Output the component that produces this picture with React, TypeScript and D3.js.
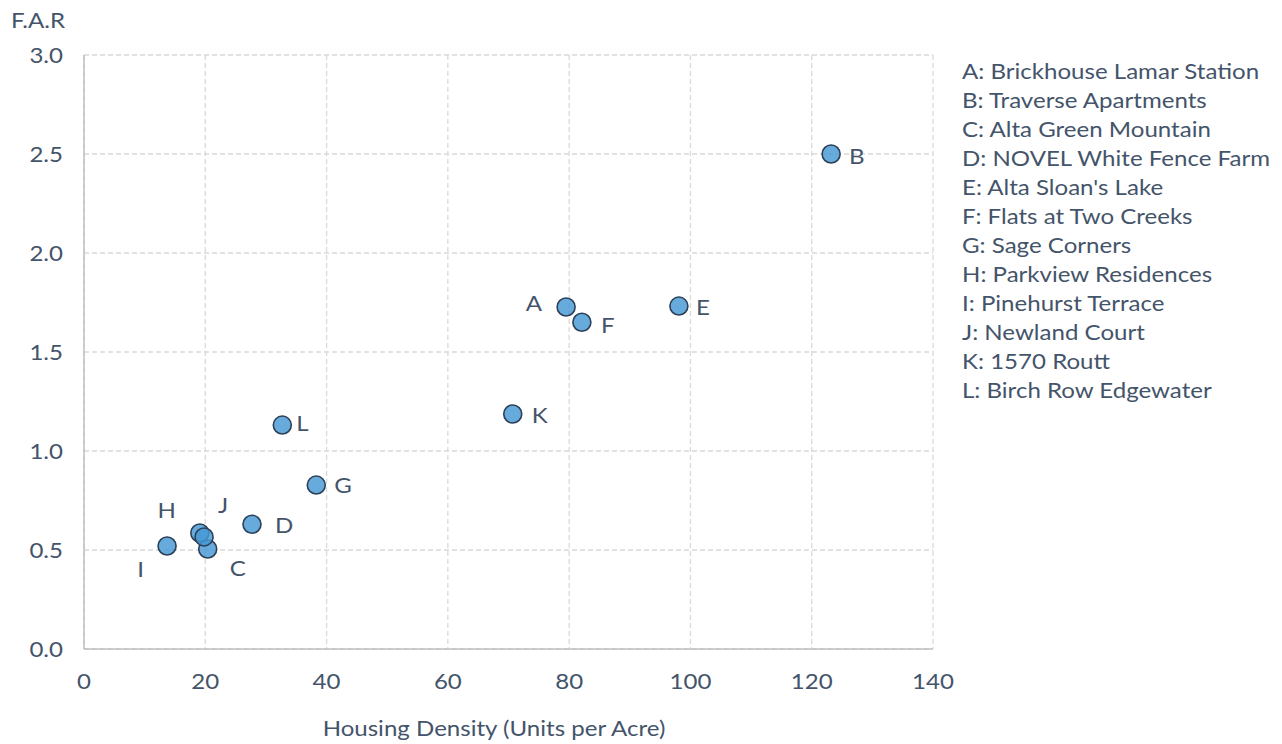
import React from "react";
import * as d3 from "d3";

const labels = ["A", "B", "C", "D", "E", "F", "G", "H", "I", "J", "K", "L"];
const names = [
  "Brickhouse Lamar Station",
  "Traverse Apartments",
  "Alta Green Mountain",
  "NOVEL White Fence Farm",
  "Alta Sloan's Lake",
  "Flats at Two Creeks",
  "Sage Corners",
  "Parkview Residences",
  "Pinehurst Terrace",
  "Newland Court",
  "1570 Routt",
  "Birch Row Edgewater",
];
const density = [79.5, 123.2, 20.4, 27.7, 98.1, 82.1, 38.3, 19.1, 13.7, 19.8, 70.7, 32.7];
const far = [1.727, 2.5, 0.505, 0.63, 1.732, 1.65, 0.828, 0.586, 0.52, 0.566, 1.187, 1.131];
const xTicks = [0, 20, 40, 60, 80, 100, 120, 140];
const yTicks = [0, 0.5, 1.0, 1.5, 2.0, 2.5, 3.0];
// label placement per point (style)
const labelPlace: [number, number, string][] = [
  [-24, -4, "end"],
  [18, 2, "start"],
  [22, 19, "start"],
  [23, 1, "start"],
  [17, 1, "start"],
  [19, 3, "start"],
  [18, 0, "start"],
  [-24, -23, "end"],
  [-23, 23, "end"],
  [14, -31, "start"],
  [19, 1, "start"],
  [14, -2, "start"],
];

const W = 1282, H = 744;
const L = 84, R = 933, T = 55, B = 649;
const TXT = "#44546a";
const FONT = "Lato, 'Open Sans', sans-serif";

function Txt({ x, y, anchor = "start", children }: { x: number; y: number; anchor?: string; children: any }) {
  return (
    <text transform={`translate(${x},${y}) scale(1.12,1)`} dy="0.35em" textAnchor={anchor as any} fontSize={21.5} fill={TXT}>
      {children}
    </text>
  );
}

export default function App() {
  const x = d3.scaleLinear().domain([0, 140]).range([L, R]);
  const y = d3.scaleLinear().domain([0, 3]).range([B, T]);
  return (
    <svg width={W} height={H} style={{ position: "absolute", left: 0, top: 0, background: "#fff" }} fontFamily={FONT}>
      {xTicks.map((t) => (
        <line key={"gx" + t} x1={x(t)} x2={x(t)} y1={T} y2={B} stroke="#d9d9d9" strokeWidth={1.3} strokeDasharray="5 3" />
      ))}
      {yTicks.map((t) => (
        <line key={"gy" + t} x1={L} x2={R} y1={y(t)} y2={y(t)} stroke="#d9d9d9" strokeWidth={1.3} strokeDasharray="5 3" />
      ))}
      <line x1={L} x2={L} y1={T} y2={B} stroke="#bfbfbf" strokeWidth={1.5} />
      <line x1={L} x2={R} y1={B} y2={B} stroke="#bfbfbf" strokeWidth={1.5} />
      {yTicks.map((t) => (
        <Txt key={"ty" + t} x={63} y={y(t)} anchor="end">
          {d3.format(".1f")(t)}
        </Txt>
      ))}
      {xTicks.map((t) => (
        <Txt key={"tx" + t} x={x(t)} y={681} anchor="middle">
          {t}
        </Txt>
      ))}
      <Txt x={38} y={20} anchor="middle">F.A.R</Txt>
      <Txt x={494} y={728} anchor="middle">Housing Density (Units per Acre)</Txt>
      {labels.map((lab, i) => (
        <circle key={"c" + lab} cx={x(density[i])} cy={y(far[i])} r={9} fill="#4598d4" fillOpacity={0.82} stroke="#2c4058" strokeWidth={1.6} />
      ))}
      {labels.map((lab, i) => (
        <Txt key={"l" + lab} x={x(density[i]) + labelPlace[i][0]} y={y(far[i]) + labelPlace[i][1]} anchor={labelPlace[i][2]}>
          {lab}
        </Txt>
      ))}
      {labels.map((lab, i) => (
        <Txt key={"lg" + lab} x={962} y={71 + i * 29}>
          {lab}: {names[i]}
        </Txt>
      ))}
    </svg>
  );
}
